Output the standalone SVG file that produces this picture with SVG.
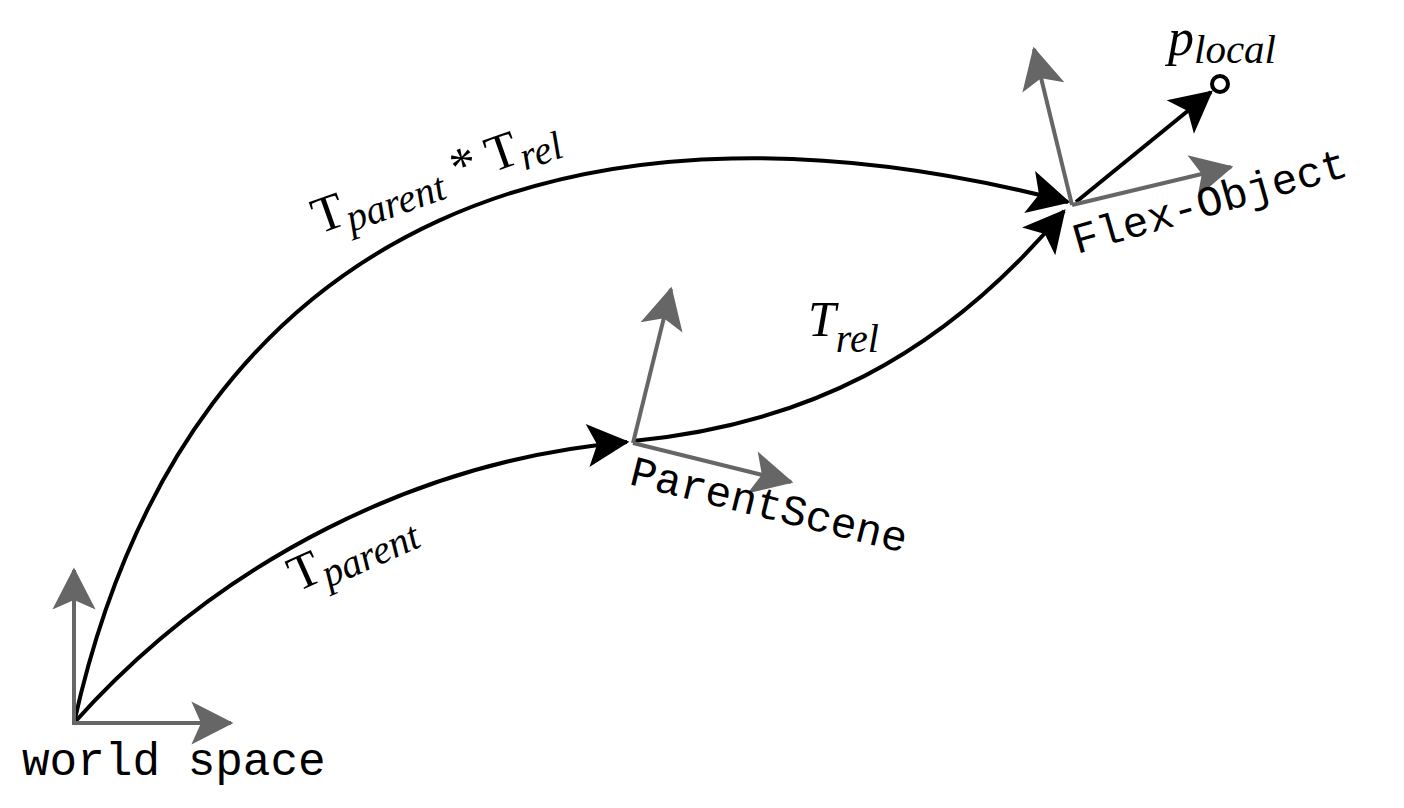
<svg xmlns="http://www.w3.org/2000/svg" width="1404" height="808" viewBox="0 0 1404 808">
<style>
.axis{stroke:#666666;stroke-width:4;fill:none;marker-end:url(#ga)}
.conn{stroke:#000;stroke-width:4;fill:none;marker-end:url(#ba)}
.mono{font-family:"Liberation Mono","Courier New",monospace;fill:#000}
.math{font-family:"Liberation Serif","Times New Roman",serif;fill:#000}
.it{font-style:italic}
</style>
<defs>
<marker id="ga" markerUnits="userSpaceOnUse" markerWidth="60" markerHeight="60" viewBox="-40 -25 50 50" refX="0" refY="0" orient="auto" overflow="visible">
<path d="M2,0 L-33,-18 L-25,0 L-33,18 Z" fill="#666666"/>
</marker>
<marker id="ba" markerUnits="userSpaceOnUse" markerWidth="60" markerHeight="60" viewBox="-40 -25 50 50" refX="0" refY="0" orient="auto" overflow="visible">
<path d="M2,0 L-33,-18 L-25,0 L-33,18 Z" fill="#000"/>
</marker>
</defs>
<rect width="1404" height="808" fill="#fff"/>
<g id="connectors">
<path class="conn" d="M74,723 C190,200 600,80 1068,202"/>
<path class="conn" d="M74,723 C220,560 420,460 627,442"/>
<path class="conn" d="M633,441 C800,425 940,360 1064,211"/>
<path class="conn" d="M1076,202 L1211,92"/>
</g>
<g id="world">
<path class="axis" d="M74,723 L74,570"/>
<path class="axis" d="M72,723 L231,723"/>
<text class="mono" x="22" y="775" font-size="46">world space</text>
</g>
<g id="parentscene">
<path class="axis" d="M633,443 L671,289"/>
<path class="axis" d="M633,443 L791,482"/>
<text class="mono" font-size="43" transform="translate(628,484) rotate(14)">ParentScene</text>
</g>
<g id="flexobject">
<path class="axis" d="M1072,205 L1034,49"/>
<path class="axis" d="M1072,205 L1231,167"/>
<text class="mono" font-size="43" transform="translate(1077,254) rotate(-16)">Flex-Object</text>
</g>
<g id="plocal">
<circle cx="1220" cy="84" r="8" fill="#fff" stroke="#000" stroke-width="4"/>
<text class="math" x="1168" y="55" font-size="52"><tspan class="it">p</tspan><tspan class="it" font-size="41" dy="8">local</tspan></text>
</g>
<g id="label-tparent-trel">
<text class="math" font-size="51" transform="translate(319,234) rotate(-19.5)">T<tspan class="it" font-size="40" dy="9">parent</tspan><tspan dy="-9"> * T</tspan><tspan class="it" font-size="40" dy="9">rel</tspan></text>
</g>
<g id="label-trel">
<text class="math" x="808" y="336" font-size="50"><tspan class="it">T</tspan><tspan class="it" font-size="40" dy="16">rel</tspan></text>
</g>
<g id="label-tparent">
<text class="math" font-size="50" transform="translate(297,592) rotate(-24)">T<tspan class="it" font-size="40" dy="9">parent</tspan></text>
</g>
</svg>
